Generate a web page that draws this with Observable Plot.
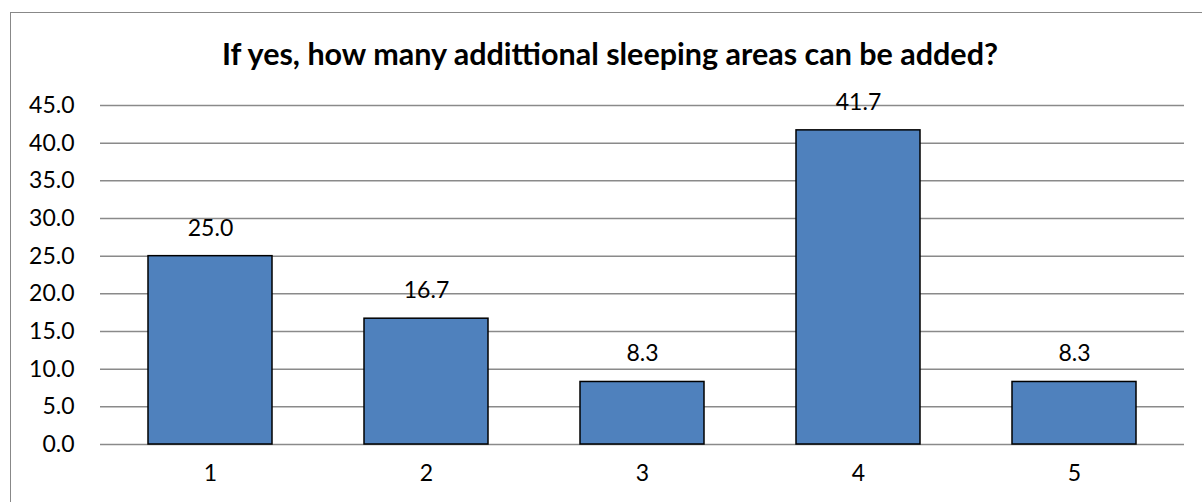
<!DOCTYPE html>
<html>
<head>
<meta charset="utf-8">
<script src="https://cdn.jsdelivr.net/npm/d3@7"></script>
<script src="https://cdn.jsdelivr.net/npm/@observablehq/plot@0.6"></script>
<style>
  html, body { margin: 0; padding: 0; background: #fff; overflow: hidden; }
  #wrap { position: relative; width: 1202px; height: 502px; }
  #frame { position: absolute; left: 10px; top: 12px; width: 1300px; height: 600px; border: 1.5px solid #888; box-sizing: border-box; pointer-events: none; }
  #title { position: absolute; left: 0; top: 0; width: 1220px; height: 80px; line-height: 80px; padding-top: 13px; box-sizing: border-box; text-align: center; font-family: Lato, sans-serif; font-weight: bold; font-size: 30.5px; color: #000; }
  #chart { position: absolute; left: 0; top: 80px; }
</style>
</head>
<body>
<div id="wrap">
  <div id="title">If yes, how many addittional sleeping areas can be added?</div>
  <div id="chart"></div>
  <div id="frame"></div>
</div>
<script>
const categories = ["1", "2", "3", "4", "5"];
const values = [25.0, 16.7, 8.3, 41.7, 8.3];
const yTicks = [0, 5, 10, 15, 20, 25, 30, 35, 40, 45];

const data = categories.map((c, i) => ({category: c, value: values[i]}));
const fmt = d3.format(".1f");

const chart = Plot.plot({
  width: 1202,
  height: 422,
  marginLeft: 100,
  marginRight: 18,
  marginTop: 25,
  marginBottom: 58,
  style: {fontFamily: "Lato, sans-serif", fontSize: "23px", color: "#000", background: "transparent"},
  x: {domain: categories, paddingInner: 0.426, paddingOuter: 0.213, label: null, axis: null},
  y: {domain: [0, 45], label: null, axis: null},
  marks: [
    Plot.gridY(yTicks, {stroke: "#8a8a8a", strokeOpacity: 1, strokeWidth: 1.5}),
    Plot.text(yTicks, {y: d => d, frameAnchor: "left", dx: -26, textAnchor: "end", text: d => fmt(d), fontSize: 23, fill: "#000"}),
    Plot.text(categories, {x: d => d, frameAnchor: "bottom", dy: 36, text: d => d, fontSize: 23, fill: "#000"}),
    Plot.barY(data, {x: "category", y: "value", fill: "#4F81BD", stroke: "#000", strokeWidth: 1.5}),
    Plot.text(data, {x: "category", y: "value", text: d => fmt(d.value), dy: -28, fontSize: 23, fill: "#000"})
  ]
});
document.getElementById("chart").appendChild(chart);
</script>
</body>
</html>
